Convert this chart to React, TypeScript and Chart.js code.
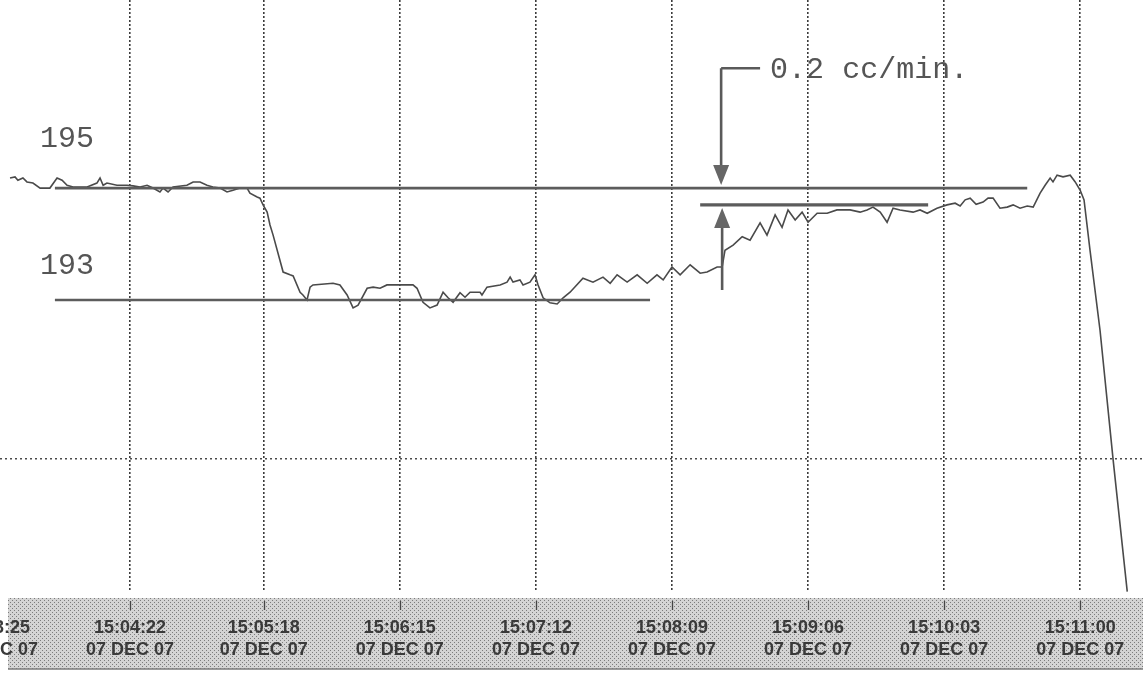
import React, { useEffect, useRef } from 'react';
import { Chart, registerables } from 'chart.js';

Chart.register(...registerables);

// ---- axis (seconds after 15:00:00) ----
const TICK_SECONDS = [205, 262, 318, 375, 432, 489, 546, 603, 660];
const TICK_TIMES = ['15:03:25', '15:04:22', '15:05:18', '15:06:15', '15:07:12', '15:08:09', '15:09:06', '15:10:03', '15:11:00'];
const TICK_DATE = '07 DEC 07';
const X_MIN = 207.5;
const X_MAX = 686.3;
const Y_MIN = 187.82;
const Y_MAX = 198.36;
const GRID_Y = [190.16];

// ---- recorder trace ----
const TRACE_T = [
  211.7, 213.8, 215.0, 217.1, 218.8, 221.3, 224.3, 228.4, 231.4, 233.5, 235.6, 238.1, 244.0, 248.1, 249.4, 250.7,
  252.3, 256.5, 260.7, 263.2, 266.2, 269.1, 271.6, 274.5, 275.8, 277.9, 280.0, 285.8, 288.4, 291.3, 294.2, 296.7,
  299.7, 302.6, 305.1, 308.0, 311.0, 312.2, 315.2, 316.4, 317.7, 319.4, 320.6, 321.9, 326.1, 329.0, 330.3, 333.2,
  334.4, 336.1, 337.4, 338.6, 347.0, 349.9, 352.9, 355.4, 357.5, 361.3, 363.8, 366.7, 369.6, 372.1, 380.5, 382.2,
  384.7, 387.6, 390.6, 393.1, 395.2, 397.3, 400.2, 402.3, 404.4, 408.6, 409.4, 411.5, 417.0, 419.9, 421.2, 422.4,
  425.3, 426.6, 429.5, 431.6, 432.9, 435.0, 437.9, 440.9, 443.4, 446.3,
  451.7, 455.9, 460.1, 463.1, 466.0, 470.2, 474.4, 478.6, 482.7, 485.3, 489.0, 492.4, 496.6, 500.8, 503.7, 507.9,
  510.0, 511.2, 514.6, 518.4, 521.7, 525.9, 528.8, 532.2, 535.1, 537.6, 540.6, 543.5, 546.0, 549.8, 554.0, 558.1, 563.6,
  567.8, 570.7, 573.2, 576.2, 579.1, 581.6, 584.5, 590.0, 592.9, 595.9, 600.0, 604.2, 607.6, 609.7, 611.8, 613.9,
  616.4, 619.3, 621.4, 623.5, 626.4, 629.4, 631.9, 634.8, 637.8, 640.3, 643.2, 645.3, 647.4, 648.6, 650.3, 652.8,
  655.8, 657.9, 660.0, 661.6, 664.1, 668.3, 673.8, 679.7,
];
const TRACE_V = [
  195.18, 195.20, 195.14, 195.18, 195.11, 195.09, 195.00, 195.00, 195.18, 195.14, 195.05, 195.02, 195.02, 195.09, 195.18, 195.05,
  195.09, 195.05, 195.05, 195.04, 195.02, 195.05, 195.00, 194.93, 195.00, 194.93, 195.02, 195.05, 195.11, 195.11, 195.05, 195.02,
  195.00, 194.93, 194.96, 195.00, 195.00, 194.91, 194.84, 194.82, 194.70, 194.57, 194.34, 194.16, 193.50, 193.45, 193.43, 193.14,
  193.09, 193.00, 193.23, 193.27, 193.30, 193.27, 193.09, 192.86, 192.91, 193.21, 193.23, 193.21, 193.27, 193.27, 193.27, 193.21,
  192.96, 192.86, 192.91, 193.14, 193.04, 192.96, 193.13, 193.05, 193.14, 193.14, 193.09, 193.23, 193.27, 193.32, 193.41, 193.32,
  193.36, 193.27, 193.32, 193.45, 193.27, 193.04, 192.95, 192.93, 193.04, 193.14,
  193.39, 193.32, 193.41, 193.30, 193.45, 193.32, 193.45, 193.30, 193.45, 193.36, 193.59, 193.45, 193.63, 193.48, 193.50, 193.59,
  193.59, 193.89, 193.98, 194.13, 194.07, 194.38, 194.16, 194.52, 194.30, 194.61, 194.43, 194.57, 194.39, 194.55, 194.55, 194.61, 194.61,
  194.57, 194.61, 194.66, 194.57, 194.39, 194.64, 194.61, 194.57, 194.61, 194.55, 194.64, 194.70, 194.73, 194.68, 194.79, 194.82,
  194.71, 194.75, 194.82, 194.82, 194.64, 194.66, 194.70, 194.64, 194.68, 194.66, 194.91, 195.05, 195.18, 195.11, 195.23, 195.20,
  195.23, 195.11, 194.96, 194.79, 193.89, 192.46, 190.14, 187.79,
];

// ---- hand-drawn reference lines ----
const REF_195_T = [230.5, 637.8];
const REF_195_V = [195.0, 195.0];
const REF_193_T = [230.5, 479.8];
const REF_193_V = [193.0, 193.0];
const REF_LOW_T = [500.8, 596.3];
const REF_LOW_V = [194.7, 194.7];

// ---- annotations ----
const LEVEL_LABELS = ['195', '193'];
const LEVEL_LABEL_T = [224.3, 224.3];
const LEVEL_LABEL_V = [195.88, 193.61];
const ARROW_T = 510.0;
const BRACKET_V = 197.14;
const BRACKET_END_T = 525.9;
const NOTE_T = 530.1;
const NOTE_TEXT = '0.2 cc/min.';
const ARROW_DOWN_TIP_V = 195.0;
const ARROW_UP_TIP_V = 194.7;
const ARROW_LOW_END_V = 193.18;

const pts = (t: number[], v: number[]) => t.map((x, i) => ({ x, y: v[i] }));

const INK = '#555555';
const MONO = '"Liberation Mono", "Courier New", monospace';

const paperPlugin = {
  id: 'paper',
  beforeDraw(chart: any) {
    const { ctx, chartArea, scales } = chart;
    ctx.save();
    ctx.fillStyle = '#ffffff';
    ctx.fillRect(0, 0, chart.width, chart.height);
    // stippled time band
    const pc = document.createElement('canvas');
    pc.width = 4;
    pc.height = 4;
    const p = pc.getContext('2d')!;
    p.fillStyle = '#d4d4d4';
    p.fillRect(0, 0, 4, 4);
    p.fillStyle = '#7c7c7c';
    p.fillRect(0, 0, 1, 1);
    p.fillRect(2, 2, 1, 1);
    const pattern = ctx.createPattern(pc, 'repeat');
    const bandTop = chartArea.bottom + 8;
    const bandBottom = chart.height - 13;
    ctx.fillStyle = pattern;
    ctx.fillRect(8, bandTop, chart.width - 8, bandBottom - bandTop);
    ctx.strokeStyle = '#7a7a7a';
    ctx.lineWidth = 1.5;
    ctx.beginPath();
    ctx.moveTo(8, bandBottom);
    ctx.lineTo(chart.width, bandBottom);
    ctx.stroke();
    // small tick marks in band
    const xs = scales.x;
    ctx.strokeStyle = '#444';
    ctx.lineWidth = 1.3;
    xs.ticks.forEach((tk: any) => {
      const px = Math.round(xs.getPixelForValue(tk.value)) + 0.5;
      ctx.beginPath();
      ctx.moveTo(px, bandTop + 3);
      ctx.lineTo(px, bandTop + 12);
      ctx.stroke();
    });
    ctx.restore();
  },
  afterDatasetsDraw(chart: any) {
    const { ctx, scales } = chart;
    const xs = scales.x;
    const ys = scales.y;
    ctx.save();
    ctx.fillStyle = INK;
    ctx.font = `30px ${MONO}`;
    ctx.textBaseline = 'middle';
    ctx.textAlign = 'left';
    LEVEL_LABELS.forEach((lab, i) => {
      ctx.fillText(lab, xs.getPixelForValue(LEVEL_LABEL_T[i]), ys.getPixelForValue(LEVEL_LABEL_V[i]));
    });
    const ax = xs.getPixelForValue(ARROW_T);
    const by = ys.getPixelForValue(BRACKET_V);
    ctx.fillText(NOTE_TEXT, xs.getPixelForValue(NOTE_T), by + 2);

    ctx.strokeStyle = '#5a5a5a';
    ctx.lineWidth = 2.6;
    ctx.beginPath();
    ctx.moveTo(xs.getPixelForValue(BRACKET_END_T), by);
    ctx.lineTo(ax - 1, by);
    ctx.moveTo(ax - 1, by);
    ctx.lineTo(ax - 1, ys.getPixelForValue(ARROW_DOWN_TIP_V) - 18);
    ctx.moveTo(ax, ys.getPixelForValue(ARROW_UP_TIP_V) + 18);
    ctx.lineTo(ax, ys.getPixelForValue(ARROW_LOW_END_V));
    ctx.stroke();

    ctx.fillStyle = '#666';
    const dTip = ys.getPixelForValue(ARROW_DOWN_TIP_V) - 3;
    ctx.beginPath();
    ctx.moveTo(ax - 1, dTip);
    ctx.lineTo(ax - 9, dTip - 20);
    ctx.lineTo(ax + 7, dTip - 20);
    ctx.closePath();
    ctx.fill();
    const uTip = ys.getPixelForValue(ARROW_UP_TIP_V) + 3;
    ctx.beginPath();
    ctx.moveTo(ax, uTip);
    ctx.lineTo(ax - 8, uTip + 20);
    ctx.lineTo(ax + 8, uTip + 20);
    ctx.closePath();
    ctx.fill();
    ctx.restore();
  },
};

export default function App() {
  const ref = useRef<HTMLCanvasElement>(null);
  useEffect(() => {
    if (!ref.current) return;
    const refLine = (data: any[], w: number) => ({
      data,
      borderColor: '#5c5c5c',
      borderWidth: w,
      pointRadius: 0,
      tension: 0,
    });
    const chart = new Chart(ref.current, {
      type: 'line',
      data: {
        datasets: [
          refLine(pts(REF_195_T, REF_195_V), 2.6),
          refLine(pts(REF_193_T, REF_193_V), 2.6),
          refLine(pts(REF_LOW_T, REF_LOW_V), 3.4),
          {
            data: pts(TRACE_T, TRACE_V),
            borderColor: '#4a4a4a',
            borderWidth: 1.6,
            pointRadius: 0,
            tension: 0,
            clip: false as any,
          },
        ],
      },
      options: {
        animation: false,
        responsive: false,
        layout: { padding: 0 },
        plugins: { legend: { display: false }, tooltip: { enabled: false } },
        scales: {
          x: {
            type: 'linear',
            min: X_MIN,
            max: X_MAX,
            afterBuildTicks: (s: any) => {
              s.ticks = TICK_SECONDS.map((value) => ({ value }));
            },
            afterFit: (s: any) => {
              s.height = 92;
              s.paddingLeft = 0;
              s.paddingRight = 0;
            },
            border: { display: false, dash: [2, 2] },
            grid: { color: '#3c3c3c', lineWidth: 1.6, drawTicks: false },
            ticks: {
              autoSkip: false,
              maxRotation: 0,
              minRotation: 0,
              padding: 28,
              color: '#3a3a3a',
              font: { family: '"Liberation Sans", Arial, sans-serif', size: 18, weight: 'bold', lineHeight: 1.17 },
              callback: (value: any) => {
                const i = TICK_SECONDS.indexOf(Number(value));
                return [TICK_TIMES[i], TICK_DATE];
              },
            },
          },
          y: {
            type: 'linear',
            min: Y_MIN,
            max: Y_MAX,
            afterBuildTicks: (s: any) => {
              s.ticks = GRID_Y.map((value) => ({ value }));
            },
            afterFit: (s: any) => {
              s.width = 0;
              s.paddingTop = 0;
              s.paddingBottom = 0;
            },
            border: { display: false, dash: [2, 3] },
            grid: { color: '#4a4a4a', lineWidth: 1.4, drawTicks: false },
            ticks: { display: false },
          },
        },
      },
      plugins: [paperPlugin],
    });
    return () => chart.destroy();
  }, []);
  return (
    <div style={{ position: 'fixed', left: 0, top: 0, width: 1143, height: 682, background: '#fff' }}>
      <canvas ref={ref} width={1143} height={682} style={{ display: 'block' }} />
    </div>
  );
}
